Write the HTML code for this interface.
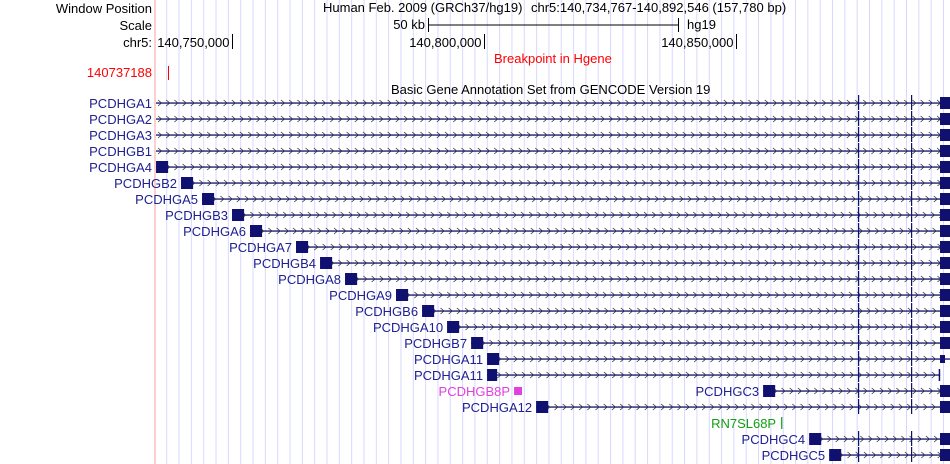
<!DOCTYPE html>
<html><head><meta charset="utf-8"><style>
body{margin:0;background:#fff;}
svg{display:block;font-family:"Liberation Sans",sans-serif;font-size:13px;}
</style></head><body>
<svg id="c" width="950" height="464">
<g id="grid"></g>
<line x1="155" y1="0" x2="155" y2="464" stroke="#f4a0a0"/>
<g text-anchor="end" fill="#000">
<text x="152" y="13">Window Position</text>
<text x="152" y="30">Scale</text>
<text x="152" y="47">chr5:</text>
<text x="152" y="77" fill="#f00">140737188</text>
</g>
<text x="323" y="12">Human Feb. 2009 (GRCh37/hg19)</text>
<text x="531" y="12">chr5:140,734,767-140,892,546 (157,780 bp)</text>
<text x="425" y="29" text-anchor="end">50 kb</text>
<line x1="428" y1="25" x2="678" y2="25" stroke="#000"/>
<line x1="428.5" y1="18" x2="428.5" y2="32" stroke="#000"/><line x1="678.5" y1="18" x2="678.5" y2="32" stroke="#000"/>
<text x="687" y="29">hg19</text>
<g id="ticks"></g>
<text x="494" y="63" fill="#f00">Breakpoint in Hgene</text>
<line x1="168.5" y1="66" x2="168.5" y2="80" stroke="#f00"/>
<text x="391" y="94">Basic Gene Annotation Set from GENCODE Version 19</text>
<g id="genes"></g>
</svg>
<script>
const winStart=140734767, winEnd=140892546;
const tickPositions=[140750000,140800000,140850000];
const tickLabels=["140,750,000","140,800,000","140,850,000"];
const geneNames=["PCDHGA1","PCDHGA2","PCDHGA3","PCDHGB1","PCDHGA4","PCDHGB2","PCDHGA5","PCDHGB3","PCDHGA6","PCDHGA7","PCDHGB4","PCDHGA8","PCDHGA9","PCDHGB6","PCDHGA10","PCDHGB7","PCDHGA11","PCDHGA11","PCDHGB8P","PCDHGC3","PCDHGA12","RN7SL68P","PCDHGC4","PCDHGC5"];
const geneRows=[0,1,2,3,4,5,6,7,8,9,10,11,12,13,14,15,16,17,18,18,19,20,21,22];
const geneStarts=[140700000,140700000,140700000,140700000,140734970,140739930,140744100,140750050,140753620,140762750,140767520,140772480,140782600,140787770,140792730,140797500,140800670,140800670,140806030,140855450,140810400,140859030,140864590,140868560];
const geneEnds=[140900000,140900000,140900000,140900000,140900000,140900000,140900000,140900000,140900000,140900000,140900000,140900000,140900000,140900000,140900000,140900000,140900000,140890600,140807600,140900000,140900000,140859150,140900000,140900000];
const geneTypes=["c","c","c","c","c","c","c","c","c","c","c","c","c","c","c","c","c","c","p","c","c","r","c","c"];
const exon1Len=[0,0,0,0,2400,2400,2400,2400,2400,2400,2400,2400,2400,2400,2400,2400,2400,2000,1600,2400,2400,0,2400,2400];
const X0=155,X1=950;
const x=b=>X0+(b-winStart)*(X1-X0)/(winEnd-winStart);
const rowY=r=>103+16*r;
const NS="http://www.w3.org/2000/svg";
function mk(t,a,p){const e=document.createElementNS(NS,t);for(const k in a)e.setAttribute(k,a[k]);p.appendChild(e);return e;}
const grid=document.getElementById('grid');
for(let gx=166.7;gx<950;gx+=12.33){const l=mk('line',{x1:gx,y1:0,x2:gx,y2:464,stroke:'#d8d8ff'},grid);

}
const tk=document.getElementById('ticks');
tickPositions.forEach((p,i)=>{const tx=Math.round(x(p))+0.5;
const t=mk('text',{x:tx-3,y:47,'text-anchor':'end'},tk);t.textContent=tickLabels[i];


const l=mk('line',{x1:tx,y1:34,x2:tx,y2:49,stroke:'#000'},tk);

});
const G=document.getElementById('genes');
const navy='#101070';
geneNames.forEach((n,i)=>{const y=rowY(geneRows[i]);
const s=Math.max(x(geneStarts[i]),156), e=Math.min(x(geneEnds[i]),950);
const g=mk('g',{},G);


const col=geneTypes[i]==='p'?'#e040e0':geneTypes[i]==='r'?'#10a010':navy;
const lab=mk('text',{x:s-(geneTypes[i]==='r'?5:4),y:y+5,'text-anchor':'end',fill:col==navy?'#202090':col},g);lab.textContent=n;
if(geneTypes[i]==='c'){
 mk('rect',{x:s,y:y-0.6,width:e-s,height:1.3,fill:navy},g);
 let d='';for(let cx=s+4;cx<e-4;cx+=8.2){d+='M'+(cx-2).toFixed(1)+','+(y-3)+' L'+(cx+1.5).toFixed(1)+','+y+' L'+(cx-2).toFixed(1)+','+(y+3)+' ';}
 mk('path',{d:d,fill:'none',stroke:'#333','stroke-width':0.8},g);
 [858,911].forEach(vx=>{if(vx>s&&vx<e)mk('rect',{x:vx,y:y-8,width:1.2,height:15,fill:navy},g);});
 if(exon1Len[i])mk('rect',{x:s,y:y-6,width:exon1Len[i]*(X1-X0)/(winEnd-winStart),height:12,fill:navy},g);
 if(e<950){mk('rect',{x:e-1.5,y:y-6,width:1.5,height:12,fill:navy},g);}
 else if(i!==16) mk('rect',{x:940,y:y-6,width:10,height:12,fill:navy},g);
 else mk('rect',{x:940,y:y-4,width:5,height:8,fill:navy},g);
}else if(geneTypes[i]==='p'){
 mk('rect',{x:s,y:y-4,width:e-s,height:8,fill:col},g);
}else{
 mk('rect',{x:s,y:y-6,width:1.2,height:12,fill:col},g);
}});
</script>
</body></html>
